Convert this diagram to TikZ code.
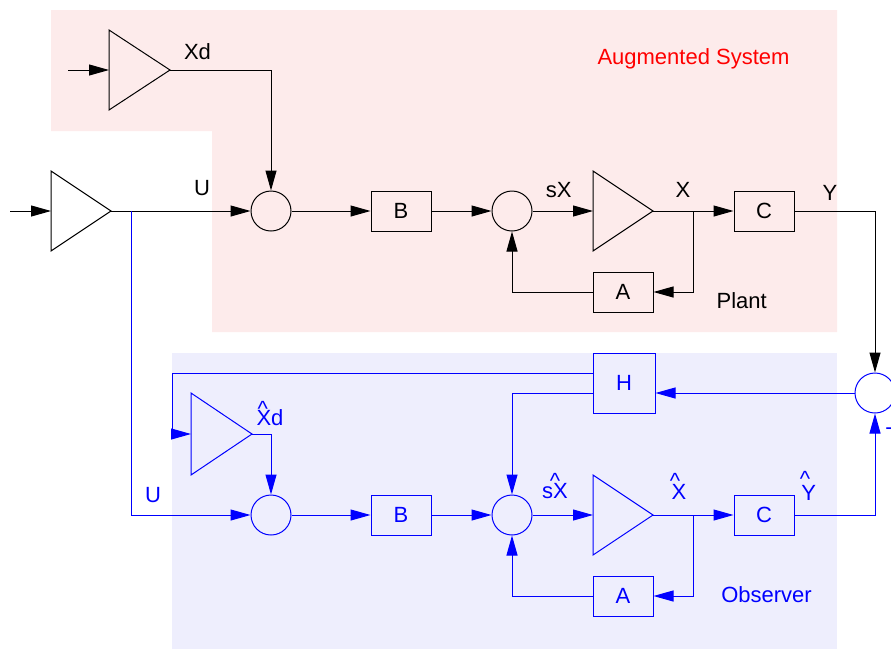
\documentclass[tikz,border=0pt]{standalone}
\usepackage{fontspec}
\setmainfont{Liberation Sans}
\usetikzlibrary{arrows.meta}
\definecolor{augpink}{RGB}{253,235,235}
\definecolor{obsbg}{RGB}{238,238,253}
\definecolor{obsblue}{RGB}{0,0,255}
\definecolor{augred}{RGB}{255,0,0}
% hat placed over a letter: #1 raise, #2 horizontal offset of the hat centre, #3 letter
\newcommand\hatover[3]{\rlap{\hspace{#2}\raisebox{#1}{\makebox[0pt]{\textasciicircum}}}#3}
\tikzset{
  wire/.style={line width=1pt},
  arr/.style={wire,-{Triangle[length=20pt,width=11pt]}},
  sumnode/.style={circle,draw,line width=1pt,minimum size=40pt,inner sep=0pt},
  blockbox/.style={rectangle,draw,line width=1pt,minimum width=60pt,minimum height=40pt,inner sep=0pt,font=\fontsize{22}{26}\selectfont},
  lbl/.style={inner sep=0pt,anchor=base,font=\fontsize{22}{26}\selectfont},
  obs/.style={draw=obsblue,text=obsblue},
}
\begin{document}
\begin{tikzpicture}[x=1pt,y=-1pt]
\useasboundingbox (0,0) rectangle (891,649);
\clip (0,0) rectangle (891,649);
% backgrounds
\fill[augpink] (51,10) -- (837,10) -- (837,332) -- (212,332) -- (212,131) -- (51,131) -- cycle;
\fill[obsbg] (172,353) rectangle (837,649);

% ---------- augmented system / plant (black) ----------
\draw[wire] (51,171) -- (111,211) -- (51,251) -- cycle;
\coordinate (g1in) at (51,211); \coordinate (g1out) at (111,211);
\draw[wire] (109,30) -- (170,70) -- (109,110) -- cycle;
\coordinate (g2in) at (109,70); \coordinate (g2out) at (170,70);
\draw[wire] (593,171) -- (653,211) -- (593,251) -- cycle;
\coordinate (i1in) at (593,211); \coordinate (i1out) at (653,211);
\coordinate (src1) at (10,211);
\coordinate (src2) at (68,70);

\node[sumnode] (sum1) at (271,211) {};
\node[sumnode] (sum2) at (512,211) {};
\node[blockbox] (B1) at (401,211) {B};
\node[blockbox] (A1) at (623,292) {A};
\node[blockbox] (C1) at (764,211) {C};
\node[sumnode,obs] (sumR) at (875,393) {};
\coordinate (br1) at (693,211);
\coordinate (uj) at (131,211);

\draw[arr] (src1) -- (g1in);
\draw[arr] (g1out) -- (sum1.west);
\draw[arr] (src2) -- (g2in);
\draw[arr] (g2out) -| (sum1.north);
\draw[arr] (sum1.east) -- (B1.west);
\draw[arr] (B1.east) -- (sum2.west);
\draw[arr] (sum2.east) -- (i1in);
\draw[arr] (i1out) -- (C1.west);
\draw[arr] (br1) |- (A1.east);
\draw[arr] (A1.west) -| (sum2.south);
\draw[arr] (C1.east) -| (sumR.north);

\node[lbl] (lXd) at (197.5,59.5) {Xd};
\node[lbl] (lU1) at (202,195) {U};
\node[lbl] (lsX) at (558.7,197) {sX};
\node[lbl] (lX) at (683,197) {X};
\node[lbl] (lY) at (830,200) {Y};
\node[lbl] (lPlant) at (741.7,308) {Plant};
\node[lbl,text=augred] (lAug) at (693.5,64.3) {Augmented System};

% ---------- observer (blue) ----------
\draw[wire,obsblue] (191,393) -- (252,434) -- (191,475) -- cycle;
\coordinate (g3in) at (191,434); \coordinate (g3out) at (252,434);
\draw[wire,obsblue] (593,475) -- (653,515) -- (593,555) -- cycle;
\coordinate (i2in) at (593,515); \coordinate (i2out) at (653,515);

\node[sumnode,obs] (osum1) at (271,515) {};
\node[sumnode,obs] (osum2) at (512,515) {};
\node[blockbox,obs] (B2) at (401,515) {B};
\node[blockbox,obs] (A2) at (623,596) {A};
\node[blockbox,obs] (C2) at (764,515) {C};
\node[blockbox,obs,minimum width=62pt,minimum height=60pt] (H) at (624,383) {H};
\coordinate (br2) at (693,515);
\coordinate (hturn) at (172,434);

\draw[arr,obsblue] (uj) |- (osum1.west);
\draw[arr,obsblue] (g3out) -| (osum1.north);
\draw[arr,obsblue] (osum1.east) -- (B2.west);
\draw[arr,obsblue] (B2.east) -- (osum2.west);
\draw[arr,obsblue] (osum2.east) -- (i2in);
\draw[arr,obsblue] (i2out) -- (C2.west);
\draw[arr,obsblue] (br2) |- (A2.east);
\draw[arr,obsblue] (A2.west) -| (osum2.south);
\draw[arr,obsblue] (C2.east) -| (sumR.south);
\draw[arr,obsblue] (sumR.west) -- (sumR.west -| H.east);
\draw[arr,obsblue] ([yshift=-10pt]H.west) -| (osum2.north);
\draw[arr,obsblue] ([yshift=10pt]H.west) -| (hturn) |- (g3in);

\node[lbl,text=obsblue] (lU2) at (153,502.7) {U};
\node[lbl,text=obsblue] (lXdh) at (270,425) {\hatover{8.8pt}{6.3pt}{X}d};
\node[lbl,text=obsblue] (lsXh) at (555,498) {s\hatover{10pt}{1.8pt}{X}};
\node[lbl,text=obsblue] (lXh) at (679,499) {\hatover{11pt}{3.3pt}{X}};
\node[lbl,text=obsblue] (lYh) at (808.7,500.7) {\hatover{13.8pt}{3.6pt}{Y}};
\node[lbl,text=obsblue] (lObs) at (766.5,602.3) {Observer};
\node[lbl,text=obsblue] (lminus) at (889,434) {-};
\end{tikzpicture}
\end{document}
